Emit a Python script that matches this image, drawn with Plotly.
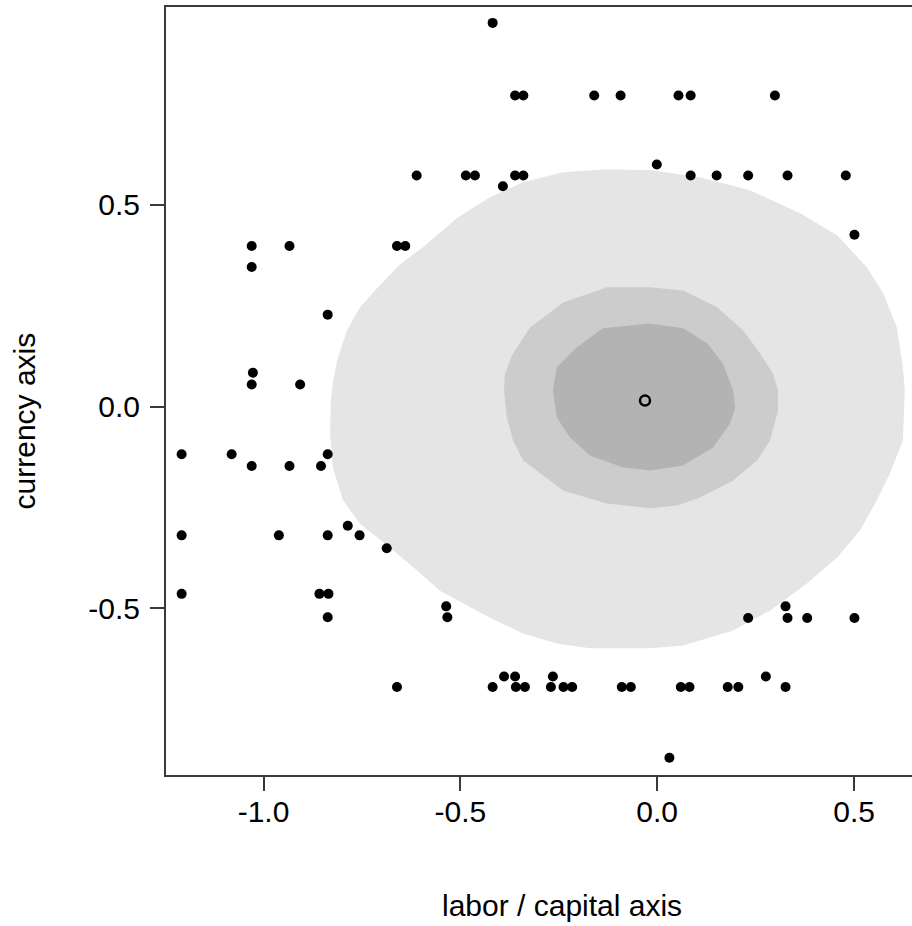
import plotly.graph_objects as go

# ---- data ----
labor_capital = [
    -0.418,
    -0.361, -0.340, -0.160, -0.093, 0.054, 0.085, 0.299,
    -0.001,
    -0.611, -0.486, -0.463, -0.361, -0.340, 0.085, 0.151, 0.231, 0.331, 0.479,
    -0.392,
    0.501,
    -1.030, -0.934, -0.661, -0.640,
    -1.030,
    -0.837,
    -1.027,
    -1.030, -0.907,
    -1.208, -1.081, -0.837,
    -1.030, -0.934, -0.854,
    -0.786,
    -1.208, -0.961, -0.837, -0.756,
    -0.687,
    -1.208, -0.858, -0.835,
    -0.837,
    -0.536, -0.533,
    0.326,
    0.231, 0.331, 0.381, 0.501,
    -0.389, -0.361, -0.265, 0.276,
    -0.661, -0.418, -0.359, -0.336, -0.270, -0.238, -0.216, -0.090, -0.067,
    0.060, 0.082, 0.179, 0.206, 0.326,
    0.031,
]
currency = [
    0.951,
    0.771, 0.771, 0.771, 0.771, 0.771, 0.771, 0.771,
    0.600,
    0.573, 0.573, 0.573, 0.573, 0.573, 0.573, 0.573, 0.573, 0.573, 0.573,
    0.546,
    0.426,
    0.398, 0.398, 0.398, 0.398,
    0.346,
    0.228,
    0.084,
    0.055, 0.055,
    -0.118, -0.118, -0.118,
    -0.147, -0.147, -0.147,
    -0.295,
    -0.319, -0.319, -0.319, -0.319,
    -0.351,
    -0.464, -0.464, -0.464,
    -0.522,
    -0.495, -0.522,
    -0.495,
    -0.524, -0.524, -0.524, -0.524,
    -0.669, -0.669, -0.669, -0.669,
    -0.695, -0.695, -0.695, -0.695, -0.695, -0.695, -0.695, -0.695, -0.695,
    -0.695, -0.695, -0.695, -0.695, -0.695,
    -0.870,
]

center_x = [-0.031]
center_y = [0.015]

# density contour outlines (outer, middle, inner)
outer_x = [-0.829, -0.824, -0.813, -0.788, -0.755, -0.714, -0.653, -0.595, -0.509, -0.425,
           -0.341, -0.239, -0.128, -0.013, 0.109, 0.236, 0.363, 0.457, 0.533, 0.574,
           0.609, 0.624, 0.629, 0.624, 0.591, 0.558, 0.515, 0.457, 0.381, 0.287,
           0.193, 0.066, -0.018, -0.171, -0.255, -0.341, -0.425, -0.509, -0.552, -0.610,
           -0.679, -0.755, -0.798, -0.824, -0.831]
outer_y = [0.015, 0.058, 0.115, 0.189, 0.246, 0.291, 0.353, 0.395, 0.467, 0.519,
           0.556, 0.581, 0.588, 0.586, 0.568, 0.536, 0.479, 0.425, 0.345, 0.281,
           0.196, 0.097, 0.040, -0.084, -0.166, -0.232, -0.307, -0.374, -0.438, -0.505,
           -0.555, -0.592, -0.599, -0.599, -0.587, -0.562, -0.523, -0.480, -0.456, -0.406,
           -0.349, -0.290, -0.232, -0.151, -0.066]

middle_x = [-0.389, -0.387, -0.366, -0.323, -0.239, -0.128, -0.018, 0.066, 0.152, 0.218,
            0.261, 0.294, 0.307, 0.307, 0.287, 0.254, 0.193, 0.109, 0.050, -0.018,
            -0.128, -0.239, -0.341, -0.366, -0.382]
middle_y = [0.040, 0.082, 0.132, 0.196, 0.258, 0.296, 0.296, 0.288, 0.246, 0.189,
            0.132, 0.082, 0.040, -0.009, -0.084, -0.133, -0.183, -0.225, -0.245, -0.252,
            -0.240, -0.208, -0.133, -0.084, -0.027]

inner_x = [-0.265, -0.255, -0.204, -0.138, -0.018, 0.066, 0.127, 0.167, 0.193, 0.198,
           0.185, 0.142, 0.066, -0.018, -0.087, -0.171, -0.222, -0.255]
inner_y = [0.040, 0.097, 0.147, 0.194, 0.206, 0.194, 0.157, 0.107, 0.040, -0.002,
           -0.042, -0.101, -0.146, -0.158, -0.151, -0.121, -0.076, -0.027]

contour_fills = ["#e5e5e5", "#cccccc", "#b3b3b3"]

x_tickvals = [-1.0, -0.5, 0.0, 0.5]
x_ticktext = ["-1.0", "-0.5", "0.0", "0.5"]
y_tickvals = [-0.5, 0.0, 0.5]
y_ticktext = ["-0.5", "0.0", "0.5"]

FONT = "Liberation Sans, Arial, Helvetica, sans-serif"

fig = go.Figure()
for (cx, cy), col in zip([(outer_x, outer_y), (middle_x, middle_y), (inner_x, inner_y)],
                         contour_fills):
    fig.add_trace(go.Scatter(
        x=cx + [cx[0]], y=cy + [cy[0]], mode="lines", fill="toself",
        fillcolor=col, line=dict(width=0, color=col), hoverinfo="skip",
        showlegend=False,
    ))

fig.add_trace(go.Scatter(
    x=labor_capital, y=currency, mode="markers",
    marker=dict(symbol="circle", size=10, color="black", line=dict(width=0)),
    showlegend=False,
))
fig.add_trace(go.Scatter(
    x=center_x, y=center_y, mode="markers",
    marker=dict(symbol="circle-open", size=10, color="black", line=dict(width=2.5, color="black")),
    showlegend=False,
))

axis_common = dict(
    showgrid=False, zeroline=False, showline=True, linecolor="#3a3a3a", linewidth=2,
    ticks="outside", ticklen=14, tickwidth=1.5, tickcolor="#3a3a3a",
    tickfont=dict(family=FONT, size=30, color="black"),
)

fig.update_layout(
    width=912, height=926,
    margin=dict(l=166, r=0, t=7, b=151),
    paper_bgcolor="white", plot_bgcolor="white",
    xaxis=dict(range=[-1.2477, 0.6472], tickvals=x_tickvals, ticktext=x_ticktext,
               mirror=True, ticklabelstandoff=-5, **axis_common),
    yaxis=dict(range=[-0.9129, 0.9904], tickvals=y_tickvals, ticktext=y_ticktext,
               mirror=False, ticklabelstandoff=4, **axis_common),
    annotations=[
        dict(text="labor / capital axis", xref="paper", yref="paper", x=0.5308, y=-0.170,
             xanchor="center", yanchor="middle", showarrow=False,
             font=dict(family=FONT, size=30, color="black")),
        dict(text="currency axis", xref="paper", yref="paper", x=-0.1903, y=0.4604,
             xanchor="center", yanchor="middle", textangle=-90, showarrow=False,
             font=dict(family=FONT, size=30, color="black")),
    ],
)

fig.write_html("out.html", config={"displayModeBar": False},
               post_script="document.body.style.margin='0';document.body.style.overflow='hidden';")
